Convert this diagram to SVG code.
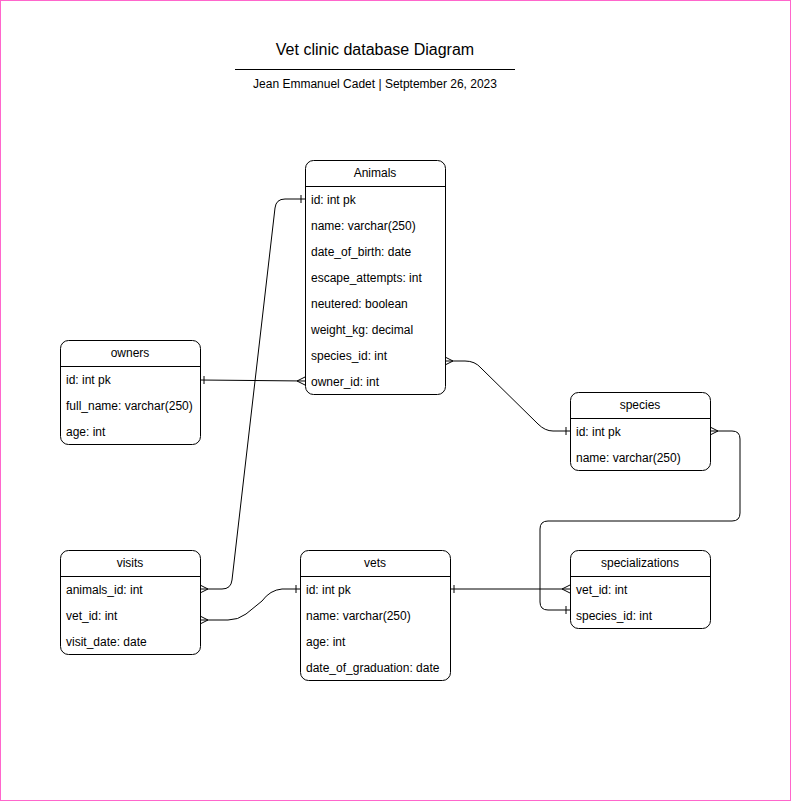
<svg xmlns="http://www.w3.org/2000/svg" width="791" height="801" viewBox="0 0 791 801">
<style>
.box{fill:#fff;stroke:#000;stroke-width:1}
.hd{stroke:#000;stroke-width:1}
text{font-family:"Liberation Sans",Arial,sans-serif;font-size:12px;fill:#000}
.c{text-anchor:middle}
.ln{fill:none;stroke:#000;stroke-width:1}
</style>
<rect x="0.5" y="0.5" width="790" height="800" fill="#fff" stroke="#ff66cc" stroke-width="1"/>
<g id="title">
<text x="375" y="55" class="c" style="font-size:16px">Vet clinic database Diagram</text>
<line x1="235" y1="69.5" x2="515" y2="69.5" stroke="#000"/>
<text x="375" y="88" class="c">Jean Emmanuel Cadet | Setptember 26, 2023</text>
</g>
<g id="connectors" class="ln">
<path d="M200,380 L305,381"/>
<path d="M204,376 L204,384 M305,377 L297,381 L305,385"/>
<path d="M200,589 L222,589 Q231,589 232,580 L275,208 Q276,199 285,199 L305,199"/>
<path d="M200,585 L208,589 L200,593 M301,195 L301,203"/>
<path d="M445,361 L465,361 Q475,361 481,368 L538,424 Q545,431 553,431 L570,431"/>
<path d="M445,357 L453,361 L445,365 M566,427 L566,435"/>
<path d="M710,431 L732,431 Q740,431 740,439 L740,513 Q740,521 732,521 L548,521 Q540,521 540,529 L540,602 Q540,610 548,610 L570,610"/>
<path d="M710,427 L718,431 L710,435 M566,606 L566,614"/>
<path d="M450,589 L570,589"/>
<path d="M454,585 L454,593 M570,585 L562,589 L570,593"/>
<path d="M200,620 L228,620 Q238,620 246,614 L262,601 Q270,590 282,589 L300,589"/>
<path d="M200,616 L208,620 L200,624 M296,585 L296,593"/>
</g>
<g id="animals">
<rect class="box" x="305.5" y="160.5" width="140" height="234" rx="8"/>
<line class="hd" x1="305.5" y1="186.5" x2="445.5" y2="186.5"/>
<text x="375" y="177" class="c">Animals</text>
<text x="311" y="204">id: int pk</text>
<text x="311" y="230">name: varchar(250)</text>
<text x="311" y="256">date_of_birth: date</text>
<text x="311" y="282">escape_attempts: int</text>
<text x="311" y="308">neutered: boolean</text>
<text x="311" y="334">weight_kg: decimal</text>
<text x="311" y="360">species_id: int</text>
<text x="311" y="386">owner_id: int</text>
</g>
<g id="owners">
<rect class="box" x="60.5" y="340.5" width="140" height="104" rx="8"/>
<line class="hd" x1="60.5" y1="366.5" x2="200.5" y2="366.5"/>
<text x="130" y="357" class="c">owners</text>
<text x="66" y="384">id: int pk</text>
<text x="66" y="410">full_name: varchar(250)</text>
<text x="66" y="436">age: int</text>
</g>
<g id="species">
<rect class="box" x="570.5" y="392.5" width="140" height="78" rx="8"/>
<line class="hd" x1="570.5" y1="418.5" x2="710.5" y2="418.5"/>
<text x="640" y="409" class="c">species</text>
<text x="576" y="436">id: int pk</text>
<text x="576" y="462">name: varchar(250)</text>
</g>
<g id="visits">
<rect class="box" x="60.5" y="550.5" width="140" height="104" rx="8"/>
<line class="hd" x1="60.5" y1="576.5" x2="200.5" y2="576.5"/>
<text x="130" y="567" class="c">visits</text>
<text x="66" y="594">animals_id: int</text>
<text x="66" y="620">vet_id: int</text>
<text x="66" y="646">visit_date: date</text>
</g>
<g id="vets">
<rect class="box" x="300.5" y="550.5" width="150" height="130" rx="8"/>
<line class="hd" x1="300.5" y1="576.5" x2="450.5" y2="576.5"/>
<text x="375" y="567" class="c">vets</text>
<text x="306" y="594">id: int pk</text>
<text x="306" y="620">name: varchar(250)</text>
<text x="306" y="646">age: int</text>
<text x="306" y="672">date_of_graduation: date</text>
</g>
<g id="specializations">
<rect class="box" x="570.5" y="550.5" width="140" height="78" rx="8"/>
<line class="hd" x1="570.5" y1="576.5" x2="710.5" y2="576.5"/>
<text x="640" y="567" class="c">specializations</text>
<text x="576" y="594">vet_id: int</text>
<text x="576" y="620">species_id: int</text>
</g>
</svg>
